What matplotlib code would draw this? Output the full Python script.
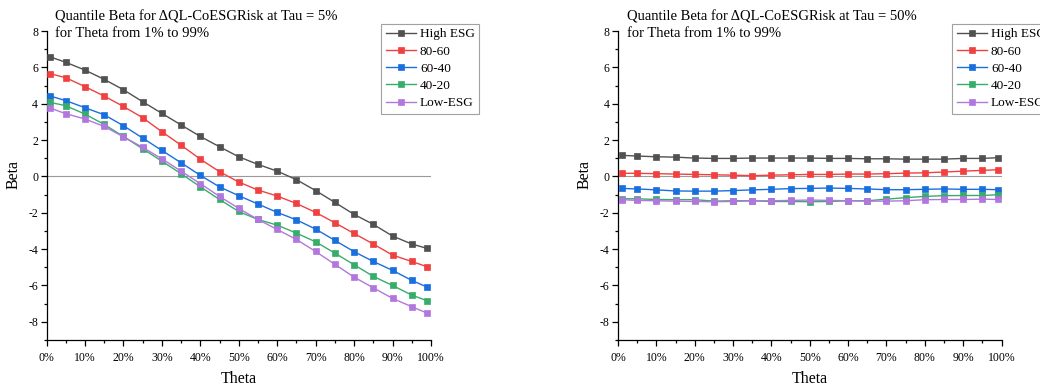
import matplotlib
matplotlib.use("Agg")
import matplotlib.pyplot as plt
from matplotlib.ticker import MultipleLocator, FuncFormatter

plt.rcParams['font.family'] = ['Liberation Serif', 'DejaVu Serif']

theta = [1, 5, 10, 15, 20, 25, 30, 35, 40, 45, 50, 55, 60, 65, 70, 75, 80, 85, 90, 95, 99]
series_names = ["High ESG", "80-60", "60-40", "40-20", "Low-ESG"]
colors = ["#515151", "#F14040", "#1A6FDF", "#37AD6B", "#B177DE"]

# Tau = 5%
tau05_high = [6.57, 6.28, 5.85, 5.34, 4.77, 4.11, 3.47, 2.83, 2.20, 1.63, 1.08, 0.66, 0.29, -0.18,
              -0.78, -1.43, -2.09, -2.64, -3.28, -3.72, -3.96]
tau05_8060 = [5.65, 5.43, 4.94, 4.42, 3.85, 3.23, 2.46, 1.72, 0.95, 0.26, -0.31, -0.75, -1.08, -1.49,
              -1.98, -2.55, -3.14, -3.72, -4.33, -4.68, -4.97]
tau05_6040 = [4.42, 4.17, 3.78, 3.39, 2.79, 2.11, 1.43, 0.75, 0.06, -0.58, -1.06, -1.52, -1.98, -2.39,
              -2.90, -3.52, -4.14, -4.68, -5.17, -5.72, -6.09]
tau05_4020 = [4.07, 3.89, 3.43, 2.86, 2.20, 1.52, 0.84, 0.15, -0.57, -1.27, -1.93, -2.37, -2.68, -3.12,
              -3.60, -4.22, -4.86, -5.50, -6.00, -6.53, -6.84]
tau05_low = [3.76, 3.45, 3.16, 2.75, 2.18, 1.60, 0.97, 0.29, -0.40, -1.10, -1.76, -2.37, -2.92, -3.47,
             -4.13, -4.84, -5.54, -6.13, -6.71, -7.17, -7.52]

# Tau = 50%
tau50_high = [1.16, 1.12, 1.08, 1.06, 1.01, 0.99, 0.99, 1.01, 1.01, 1.01, 1.01, 0.99, 0.99, 0.97,
              0.97, 0.95, 0.95, 0.95, 0.99, 0.99, 1.03]
tau50_8060 = [0.17, 0.17, 0.15, 0.13, 0.11, 0.09, 0.07, 0.04, 0.07, 0.09, 0.11, 0.11, 0.13, 0.13,
              0.15, 0.18, 0.20, 0.24, 0.29, 0.33, 0.37]
tau50_6040 = [-0.66, -0.69, -0.74, -0.80, -0.81, -0.81, -0.78, -0.74, -0.71, -0.67, -0.66, -0.64,
              -0.66, -0.69, -0.73, -0.73, -0.71, -0.69, -0.71, -0.71, -0.73]
tau50_4020 = [-1.23, -1.23, -1.27, -1.28, -1.28, -1.36, -1.34, -1.34, -1.38, -1.38, -1.39, -1.38,
              -1.34, -1.34, -1.25, -1.17, -1.10, -1.06, -1.05, -1.05, -1.01]
tau50_low = [-1.28, -1.32, -1.34, -1.36, -1.38, -1.39, -1.38, -1.34, -1.34, -1.32, -1.30, -1.32,
             -1.34, -1.36, -1.36, -1.34, -1.28, -1.27, -1.27, -1.25, -1.27]

titles = ["Quantile Beta for \u0394QL-CoESGRisk at Tau = 5%\nfor Theta from 1% to 99%",
          "Quantile Beta for \u0394QL-CoESGRisk at Tau = 50%\nfor Theta from 1% to 99%"]
panels = [[tau05_high, tau05_8060, tau05_6040, tau05_4020, tau05_low],
          [tau50_high, tau50_8060, tau50_6040, tau50_4020, tau50_low]]

fig = plt.figure(figsize=(10.4, 3.87), dpi=100)
W, H = 1040, 387
axes_px = [(46.5, 31, 431, 340), (618, 31, 1001.5, 340)]
legend_x = [381, 952]

for k, (x0, y0, x1, y1) in enumerate(axes_px):
    ax = fig.add_axes([x0 / W, 1 - y1 / H, (x1 - x0) / W, (y1 - y0) / H])
    ax.axhline(0, color="#9a9a9a", lw=0.8, zorder=1)
    for name, vals, c in zip(series_names, panels[k], colors):
        ax.plot(theta, vals, color=c, lw=1.0, marker='s', markersize=5,
                markeredgecolor=c, markeredgewidth=0.5, label=name, zorder=3)
    ax.set_xlim(0, 100)
    ax.set_ylim(-9, 8)
    ax.spines['top'].set_visible(False)
    ax.spines['right'].set_visible(False)
    ax.spines['left'].set_linewidth(0.9)
    ax.spines['bottom'].set_linewidth(0.9)
    ax.xaxis.set_major_locator(MultipleLocator(10))
    ax.xaxis.set_minor_locator(MultipleLocator(5))
    ax.yaxis.set_major_locator(MultipleLocator(2))
    ax.yaxis.set_minor_locator(MultipleLocator(1))
    ax.xaxis.set_major_formatter(FuncFormatter(lambda v, p: f"{int(round(v))}%"))
    ax.yaxis.set_major_formatter(FuncFormatter(lambda v, p: f"{int(round(v))}"))
    ax.tick_params(which='major', direction='out', length=4, width=0.9, labelsize=8.5, pad=2)
    ax.tick_params(axis='x', which='major', pad=4.5)
    ax.tick_params(which='minor', direction='out', length=2, width=0.9)
    ax.set_xlabel("Theta", fontsize=11.5, labelpad=5)
    ax.set_ylabel("Beta", fontsize=11.5)
    ax.yaxis.set_label_coords(-0.066, 0.535)
    ax.text(0.023, 1.068, titles[k], transform=ax.transAxes, ha='left', va='top',
            fontsize=10.5, linespacing=1.4)
    leg = ax.legend(loc='upper left', fontsize=9.5, frameon=True, fancybox=False,
                    handlelength=2.3, handletextpad=0.3, borderpad=0.35,
                    labelspacing=0.38, borderaxespad=0)
    leg.set_bbox_to_anchor(((legend_x[k] - x0) / (x1 - x0), (y1 - 23.5) / (y1 - y0)),
                           transform=ax.transAxes)
    leg.get_frame().set_edgecolor("#8a8a8a")
    leg.get_frame().set_linewidth(0.8)

fig.savefig("out.png", dpi=100)
